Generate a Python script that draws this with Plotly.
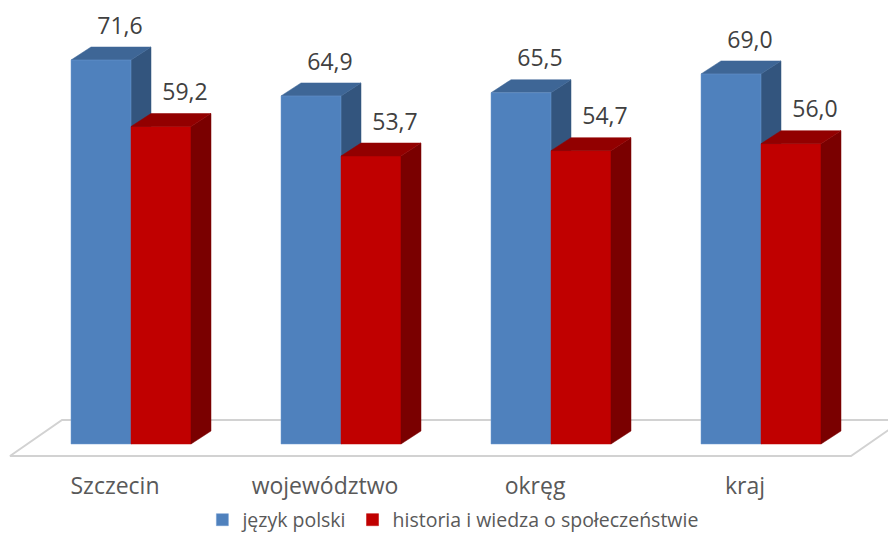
import plotly.graph_objects as go

categories = ["Szczecin", "województwo", "okręg", "kraj"]
jezyk_polski = [71.6, 64.9, 65.5, 69.0]
historia = [59.2, 53.7, 54.7, 56.0]
series_names = ["język polski", "historia i wiedza o społeczeństwie"]

W, H = 888, 534
PX_X = 210.0            # pixels per category
PX_Y = 5.363            # pixels per value unit
X0_PX = 131.0           # pixel of category 0
Y0_PX = 444.0           # pixel of value 0
PLOT_BOTTOM = 470
x_range = [-X0_PX / PX_X, (W - X0_PX) / PX_X]
y_range = [-(PLOT_BOTTOM - Y0_PX) / PX_Y, Y0_PX / PX_Y]

BAR_W = 60 / PX_X
DX = 20 / PX_X
DY = 13 / PX_Y

FONT = "Open Sans"
TXT = "#595959"
FLOOR = "#d2d2d2"


def box_faces(center, value):
    left, right = center - BAR_W / 2, center + BAR_W / 2
    side = ([right, right + DX, right + DX, right, right],
            [0, DY, value + DY, value, 0])
    top = ([left, left + DX, right + DX, right, left],
           [value, value + DY, value + DY, value, value])
    return side, top


def face(xy, color, xaxis, yaxis):
    return go.Scatter(x=xy[0], y=xy[1], mode="lines", fill="toself", fillcolor=color,
                      line=dict(color=color, width=0.5), hoverinfo="skip",
                      showlegend=False, xaxis=xaxis, yaxis=yaxis)


fig = go.Figure()

# floor outline (lower subplot)
fx_fl, fx_bl = (10 - X0_PX) / PX_X, (62 - X0_PX) / PX_X
fx_fr, fx_br = (851 - X0_PX) / PX_X, (903 - X0_PX) / PX_X
fy_f, fy_b = -(456 - Y0_PX) / PX_Y, (Y0_PX - 420) / PX_Y
fig.add_trace(go.Scatter(x=[fx_br, fx_bl, fx_fl, fx_fr, fx_br], y=[fy_b, fy_b, fy_f, fy_f, fy_b],
                         mode="lines", line=dict(color=FLOOR, width=2),
                         hoverinfo="skip", showlegend=False))

idx = list(range(len(categories)))
# blue depth faces lie beneath the front of the red bars
for i in idx:
    side, top = box_faces(i - BAR_W / 2, jezyk_polski[i])
    fig.add_trace(face(side, "#33557e", "x", "y"))
    fig.add_trace(face(top, "#3e6696", "x", "y"))

# front faces on the overlay subplot
fig.add_trace(go.Bar(x=idx, y=jezyk_polski, name=series_names[0], marker_color="#4f81bd",
                     marker_line=dict(color="#6f9bd0", width=0.5), xaxis="x2", yaxis="y2"))
fig.add_trace(go.Bar(x=idx, y=historia, name=series_names[1], marker_color="#c00000",
                     marker_line=dict(color="#c00000", width=0.5), xaxis="x2", yaxis="y2"))

for i in idx:
    side, top = box_faces(i + BAR_W / 2, historia[i])
    fig.add_trace(face(side, "#7a0000", "x2", "y2"))
    fig.add_trace(face(top, "#920000", "x2", "y2"))

LABEL_DY = 32 / PX_Y
for vals, off in ((jezyk_polski, -BAR_W / 2 + 19 / PX_X), (historia, BAR_W / 2 + 24 / PX_X)):
    fig.add_trace(go.Scatter(x=[i + off for i in idx], y=[v + LABEL_DY for v in vals],
                             mode="text", text=[f"{v:.1f}".replace(".", ",") for v in vals],
                             textposition="middle center",
                             textfont=dict(family=FONT, size=23, color="#404040"),
                             hoverinfo="skip", showlegend=False, xaxis="x2", yaxis="y2"))

fig.update_layout(
    width=W, height=H, autosize=False,
    margin=dict(l=0, r=0, t=0, b=H - PLOT_BOTTOM, pad=0, autoexpand=False),
    paper_bgcolor="white", plot_bgcolor="rgba(0,0,0,0)",
    barmode="group", bargap=1 - 2 * BAR_W, bargroupgap=0,
    xaxis=dict(range=x_range, tickvals=[i - 16 / PX_X for i in idx], ticktext=categories,
               ticks="", showgrid=False, zeroline=False, showline=False,
               tickfont=dict(family=FONT, size=23, color=TXT), ticklabelstandoff=0),
    yaxis=dict(range=y_range, visible=False),
    xaxis2=dict(range=x_range, overlaying="x", visible=False),
    yaxis2=dict(range=y_range, overlaying="y", visible=False),
    legend=dict(orientation="h", x=0.51, xanchor="center", y=-(520 - PLOT_BOTTOM) / PLOT_BOTTOM,
                yanchor="middle", font=dict(family=FONT, size=19.5, color=TXT),
                traceorder="normal", itemclick=False, itemdoubleclick=False,
                bgcolor="rgba(0,0,0,0)"),
    showlegend=True,
)

fig.write_html("out.html", config={"displayModeBar": False},
               post_script="document.body.style.margin='0';")
